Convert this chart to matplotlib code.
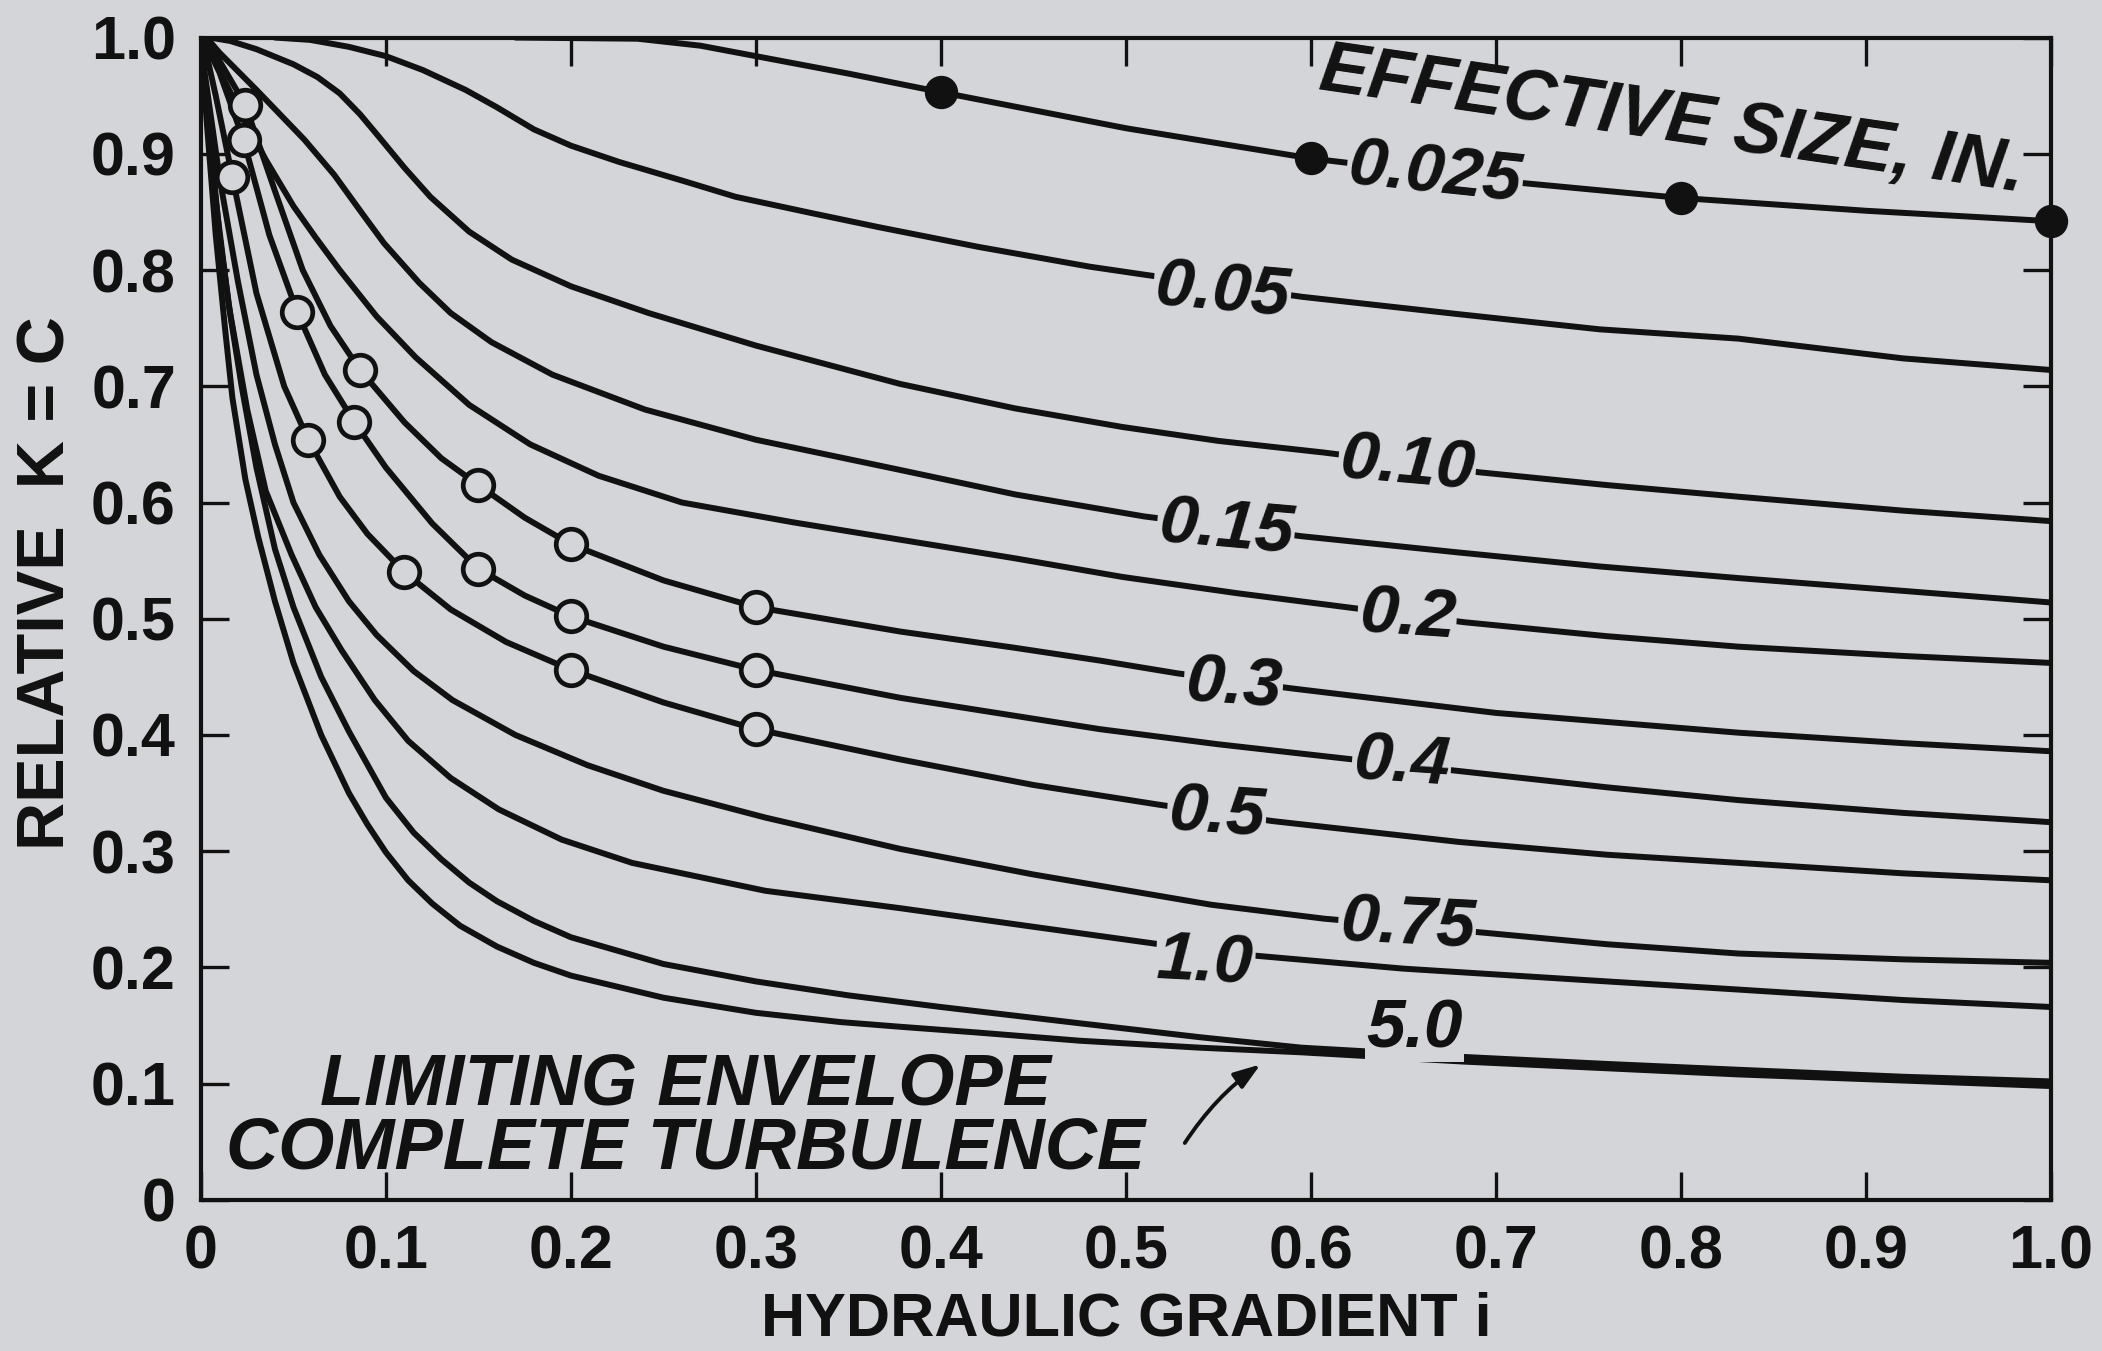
import numpy as np
import matplotlib
matplotlib.use('Agg')
import matplotlib.pyplot as plt

plt.rcParams['font.family'] = ['Liberation Sans', 'DejaVu Sans']
plt.rcParams['font.weight'] = 'bold'

BG = '#d4d5d9'
INK = '#111111'

# Curves: relative K (= C) against hydraulic gradient i
x_025 = [0.17, 0.236, 0.27, 0.30, 0.35, 0.40, 0.50, 0.60, 0.70, 0.80, 0.90, 1.0]
y_025 = [1.0, 0.999, 0.993, 0.984, 0.969, 0.953, 0.922, 0.896, 0.877, 0.862, 0.851, 0.842]

x_05 = [0.04, 0.059, 0.08, 0.10, 0.12, 0.143, 0.16, 0.18, 0.20, 0.226, 0.26, 0.289,
        0.33, 0.366, 0.42, 0.48, 0.51, 0.595, 0.68, 0.756, 0.831, 0.92, 1.0]
y_05 = [1.0, 0.998, 0.992, 0.984, 0.972, 0.955, 0.94, 0.921, 0.907, 0.893, 0.877, 0.863,
        0.849, 0.837, 0.82, 0.803, 0.796, 0.777, 0.762, 0.749, 0.741, 0.724, 0.714]

x_10 = [0.005, 0.016, 0.03, 0.05, 0.063, 0.075, 0.086, 0.096, 0.11, 0.124, 0.145, 0.168, 0.2,
        0.242, 0.3, 0.378, 0.44, 0.498, 0.55, 0.607, 0.691, 0.76, 0.831, 0.92, 1.0]
y_10 = [1.0, 0.997, 0.99, 0.977, 0.966, 0.952, 0.934, 0.915, 0.888, 0.863, 0.833, 0.809, 0.786,
        0.763, 0.735, 0.702, 0.681, 0.665, 0.653, 0.643, 0.626, 0.615, 0.605, 0.593, 0.584]

x_15 = [0.003, 0.01, 0.03, 0.056, 0.072, 0.087, 0.099, 0.118, 0.135, 0.157, 0.19, 0.24,
        0.3, 0.378, 0.44, 0.51, 0.595, 0.68, 0.756, 0.831, 0.92, 1.0]
y_15 = [1.0, 0.987, 0.955, 0.912, 0.882, 0.849, 0.823, 0.789, 0.763, 0.738, 0.71, 0.68,
        0.654, 0.628, 0.607, 0.588, 0.571, 0.557, 0.545, 0.535, 0.524, 0.514]

x_20 = [0.002, 0.006, 0.02, 0.035, 0.05, 0.062, 0.075, 0.095, 0.116, 0.145, 0.178, 0.215,
        0.26, 0.32, 0.378, 0.44, 0.498, 0.56, 0.619, 0.683, 0.76, 0.831, 0.92, 1.0]
y_20 = [1.0, 0.984, 0.94, 0.895, 0.855, 0.828, 0.80, 0.76, 0.725, 0.684, 0.65, 0.623,
        0.60, 0.583, 0.568, 0.552, 0.536, 0.522, 0.51, 0.497, 0.485, 0.476, 0.468, 0.462]

x_30 = [0.002, 0.01, 0.024, 0.04, 0.055, 0.07, 0.086, 0.11, 0.13, 0.15, 0.175, 0.2, 0.25,
        0.3, 0.378, 0.44, 0.486, 0.528, 0.59, 0.7, 0.831, 0.92, 1.0]
y_30 = [1.0, 0.98, 0.942, 0.868, 0.80, 0.752, 0.714, 0.669, 0.638, 0.615, 0.587, 0.564, 0.533,
        0.51, 0.489, 0.475, 0.464, 0.453, 0.44, 0.419, 0.402, 0.393, 0.386]

x_40 = [0.001, 0.01, 0.023, 0.037, 0.052, 0.067, 0.083, 0.1, 0.125, 0.15, 0.175, 0.2, 0.25,
        0.3, 0.378, 0.486, 0.55, 0.617, 0.68, 0.76, 0.831, 0.92, 1.0]
y_40 = [1.0, 0.97, 0.912, 0.83, 0.764, 0.71, 0.669, 0.63, 0.582, 0.543, 0.52, 0.502, 0.476,
        0.456, 0.432, 0.405, 0.392, 0.38, 0.369, 0.355, 0.344, 0.333, 0.325]

x_50 = [0.001, 0.008, 0.017, 0.03, 0.045, 0.058, 0.075, 0.09, 0.11, 0.135, 0.165, 0.2, 0.25,
        0.3, 0.378, 0.45, 0.518, 0.579, 0.68, 0.76, 0.831, 0.92, 1.0]
y_50 = [1.0, 0.95, 0.88, 0.78, 0.70, 0.654, 0.605, 0.573, 0.54, 0.508, 0.48, 0.456, 0.428,
        0.405, 0.379, 0.357, 0.34, 0.326, 0.308, 0.297, 0.29, 0.281, 0.275]

x_75 = [0.0, 0.002, 0.01, 0.02, 0.03, 0.04, 0.05, 0.064, 0.08, 0.095, 0.115, 0.136, 0.17,
        0.209, 0.25, 0.305, 0.378, 0.45, 0.546, 0.607, 0.693, 0.76, 0.831, 0.92, 1.0]
y_75 = [1.0, 0.97, 0.88, 0.79, 0.71, 0.65, 0.60, 0.555, 0.515, 0.486, 0.455, 0.43, 0.40,
        0.374, 0.352, 0.329, 0.302, 0.28, 0.254, 0.242, 0.23, 0.22, 0.212, 0.207, 0.204]

x_100 = [0.0, 0.001, 0.008, 0.015, 0.025, 0.035, 0.049, 0.062, 0.076, 0.094, 0.112, 0.135,
         0.161, 0.195, 0.233, 0.305, 0.378, 0.45, 0.518, 0.571, 0.65, 0.75, 0.831, 0.92, 1.0]
y_100 = [1.0, 0.97, 0.86, 0.77, 0.68, 0.61, 0.555, 0.51, 0.473, 0.43, 0.395, 0.363,
         0.336, 0.31, 0.29, 0.266, 0.251, 0.235, 0.22, 0.21, 0.199, 0.189, 0.181, 0.172, 0.166]

x_500 = [0.0, 0.004, 0.01, 0.016, 0.022, 0.03, 0.04, 0.05, 0.065, 0.08, 0.1, 0.115, 0.13,
         0.145, 0.16, 0.18, 0.2, 0.25, 0.3, 0.35, 0.4, 0.475, 0.54, 0.595, 0.683, 0.76,
         0.831, 0.92, 1.0]
y_500 = [1.0, 0.93, 0.83, 0.76, 0.70, 0.63, 0.56, 0.51, 0.45, 0.403, 0.346, 0.316, 0.293,
         0.273, 0.257, 0.24, 0.226, 0.203, 0.188, 0.176, 0.166, 0.152, 0.14, 0.131, 0.123, 0.117,
         0.112, 0.106, 0.102]

x_env = [0.0, 0.003, 0.008, 0.013, 0.017, 0.024, 0.031, 0.04, 0.05, 0.065, 0.08, 0.09, 0.1,
         0.112, 0.125, 0.14, 0.16, 0.18, 0.2, 0.25, 0.3, 0.346, 0.378, 0.42, 0.475, 0.54,
         0.595, 0.683, 0.831, 1.0]
y_env = [1.0, 0.93, 0.83, 0.75, 0.69, 0.62, 0.57, 0.515, 0.462, 0.40, 0.35, 0.323, 0.299,
         0.275, 0.255, 0.236, 0.218, 0.204, 0.193, 0.174, 0.161, 0.153, 0.149, 0.144, 0.137,
         0.131, 0.127, 0.119, 0.108, 0.098]

curves = [(x_025, y_025), (x_05, y_05), (x_10, y_10), (x_15, y_15), (x_20, y_20),
          (x_30, y_30), (x_40, y_40), (x_50, y_50), (x_75, y_75), (x_100, y_100),
          (x_500, y_500), (x_env, y_env)]

# Filled test points on the 0.025 in. curve
dots_x = [0.4, 0.6, 0.8, 1.0]
dots_y = [0.953, 0.896, 0.862, 0.842]

# Open test points on the 0.3, 0.4 and 0.5 in. curves
open_x = [0.024, 0.086, 0.15, 0.2, 0.3,
          0.023, 0.052, 0.083, 0.15, 0.2, 0.3,
          0.017, 0.058, 0.11, 0.2, 0.3]
open_y = [0.942, 0.714, 0.615, 0.564, 0.51,
          0.912, 0.764, 0.669, 0.543, 0.502, 0.456,
          0.88, 0.654, 0.54, 0.456, 0.405]

# Curve labels (effective size, in.)
lab_text = ['0.025', '0.05', '0.10', '0.15', '0.2', '0.3', '0.4', '0.5', '0.75', '1.0', '5.0']
lab_x = [0.667, 0.552, 0.652, 0.554, 0.652, 0.558, 0.649, 0.549, 0.652, 0.543, 0.656]
lab_y = [0.882, 0.781, 0.632, 0.577, 0.502, 0.442, 0.375, 0.331, 0.236, 0.204, 0.147]
lab_rot = [-6, -5, -5, -5, -4, -4, -4, -4, -3, -3, 0]

ticks = [0, 0.1, 0.2, 0.3, 0.4, 0.5, 0.6, 0.7, 0.8, 0.9, 1.0]
tick_labels = ['0', '0.1', '0.2', '0.3', '0.4', '0.5', '0.6', '0.7', '0.8', '0.9', '1.0']

fig = plt.figure(figsize=(21.02, 13.51), dpi=100, facecolor=BG)
ax = fig.add_axes([0.0956, 0.1118, 0.8801, 0.8604], facecolor=BG)

for cx, cy in curves:
    ax.plot(cx, cy, color=INK, lw=4.3, solid_capstyle='round', solid_joinstyle='round', zorder=2)

ax.plot(dots_x, dots_y, 'o', color=INK, markersize=23, zorder=4, clip_on=False)
ax.plot(open_x, open_y, 'o', mfc=BG, mec=INK, mew=3.4, markersize=22, zorder=4)

for t, lx, ly, r in zip(lab_text, lab_x, lab_y, lab_rot):
    ax.text(lx, ly, t, fontsize=50, fontstyle='italic', fontweight='bold', color=INK,
            ha='center', va='center', rotation=r, zorder=5,
            bbox=dict(facecolor=BG, edgecolor='none', pad=1))

ax.text(0.795, 0.928, 'EFFECTIVE SIZE, IN.', fontsize=52, fontstyle='italic',
        fontweight='bold', color=INK, ha='center', va='center', rotation=-8.3, zorder=5)
ax.text(0.262, 0.071, 'LIMITING ENVELOPE\nCOMPLETE TURBULENCE', fontsize=52,
        fontstyle='italic', fontweight='bold', color=INK, ha='center', va='center',
        multialignment='center', linespacing=0.92, zorder=5)
ax.annotate('', xy=(0.574, 0.118), xytext=(0.531, 0.047),
            arrowprops=dict(arrowstyle='-|>,head_length=1.6,head_width=0.55', color=INK,
                            lw=2.8, connectionstyle='arc3,rad=-0.1'), zorder=5)

ax.set_xlim(0, 1.0)
ax.set_ylim(0, 1.0)
ax.set_xticks(ticks)
ax.set_xticklabels(tick_labels)
ax.set_yticks(ticks)
ax.set_yticklabels(tick_labels)
ax.tick_params(direction='in', length=20, width=2.4, top=True, right=True,
               labelsize=44, pad=18, colors=INK)
for s in ax.spines.values():
    s.set_linewidth(3)
    s.set_color(INK)

ax.set_xlabel('HYDRAULIC GRADIENT i', fontsize=44, fontweight='bold', color=INK)
ax.xaxis.label.set_va('baseline')
ax.xaxis.set_label_coords(0.5, -0.117)
ax.set_ylabel('RELATIVE  K = C', fontsize=48, fontweight='bold', color=INK)
ax.yaxis.label.set_va('center')
ax.yaxis.set_label_coords(-0.083, 0.531)

plt.savefig('out.png', dpi=100, facecolor=BG)
